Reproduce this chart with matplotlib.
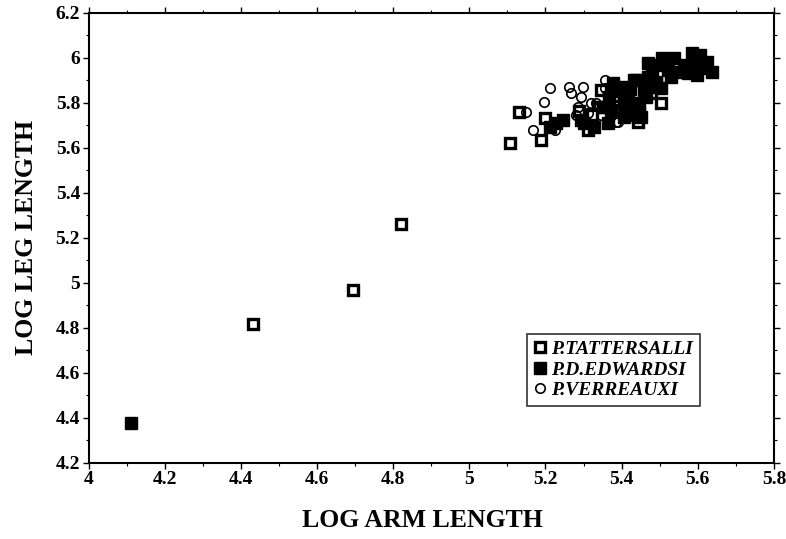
import matplotlib.pyplot as plt
from matplotlib.ticker import MultipleLocator

# data (log arm length vs log leg length)
tatt_arm = [4.433, 4.694, 4.821, 5.106, 5.130, 5.187, 5.198, 5.311, 5.337, 5.346,
            5.442, 5.442, 5.477, 5.503, 5.287, 5.322, 5.381, 5.411, 5.491, 5.292]
tatt_leg = [4.815, 4.968, 5.260, 5.623, 5.760, 5.634, 5.731, 5.678, 5.782, 5.856,
            5.794, 5.716, 5.842, 5.797, 5.764, 5.744, 5.832, 5.793, 5.881, 5.724]

edw_arm = [4.111, 5.211, 5.228, 5.246, 5.302, 5.328, 5.364, 5.372, 5.368, 5.377,
           5.407, 5.407, 5.416, 5.433, 5.446, 5.463, 5.472, 5.468, 5.507, 5.538,
           5.586, 5.607, 5.625, 5.638, 5.599, 5.555, 5.530, 5.490, 5.468, 5.459,
           5.503, 5.437, 5.446, 5.450, 5.416, 5.407, 5.564, 5.573, 5.521, 5.590,
           5.610, 5.491, 5.352, 5.392, 5.422, 5.481]
edw_leg = [4.375, 5.694, 5.709, 5.723, 5.709, 5.694, 5.709, 5.768, 5.827, 5.886,
           5.872, 5.797, 5.746, 5.901, 5.753, 5.827, 5.872, 5.975, 5.997, 5.997,
           6.019, 6.012, 5.982, 5.938, 5.923, 5.938, 5.916, 5.894, 5.916, 5.856,
           5.864, 5.901, 5.797, 5.738, 5.827, 5.738, 5.967, 5.930, 5.946, 5.966,
           5.956, 5.966, 5.783, 5.850, 5.860, 5.937]

ver_arm = [5.149, 5.211, 5.196, 5.168, 5.224, 5.263, 5.268, 5.298, 5.294, 5.320,
           5.333, 5.285, 5.281, 5.355, 5.355, 5.390, 5.346, 5.381, 5.385, 5.293,
           5.312]
ver_leg = [5.760, 5.864, 5.802, 5.679, 5.679, 5.872, 5.842, 5.872, 5.827, 5.797,
           5.797, 5.782, 5.746, 5.901, 5.864, 5.715, 5.746, 5.768, 5.715, 5.725,
           5.754]

plt.rcParams['font.family'] = ['Liberation Serif', 'DejaVu Serif']
plt.rcParams['font.weight'] = 'bold'

fig = plt.figure(figsize=(7.86, 5.39), dpi=100)
ax = fig.add_axes([0.1126, 0.1416, 0.8721, 0.8348])

ax.plot(tatt_arm, tatt_leg, 's', ms=6.5, mfc='white', mec='black', mew=2.4,
        linestyle='none', label='P.TATTERSALLI', zorder=3)
ax.plot(edw_arm, edw_leg, 's', ms=8.2, mfc='black', mec='black', mew=1.0,
        linestyle='none', label='P.D.EDWARDSI', zorder=4)
ax.plot(ver_arm, ver_leg, 'o', ms=6.8, mfc='none', mec='black', mew=1.2,
        linestyle='none', label='P.VERREAUXI', zorder=5)

ax.set_xlim(4, 5.8)
ax.set_ylim(4.2, 6.2)
ax.xaxis.set_major_locator(MultipleLocator(0.2))
ax.xaxis.set_minor_locator(MultipleLocator(0.1))
ax.yaxis.set_major_locator(MultipleLocator(0.2))
ax.yaxis.set_minor_locator(MultipleLocator(0.1))
fmt = plt.FuncFormatter(lambda v, p: ('%.1f' % v).rstrip('0').rstrip('.'))
ax.xaxis.set_major_formatter(fmt)
ax.yaxis.set_major_formatter(fmt)

ax.tick_params(which='major', direction='out', length=4, width=1.0,
               top=True, right=True, labelsize=14, pad=2)
ax.tick_params(which='minor', direction='out', length=2.5, width=0.8,
               top=True, right=True)
for lab in ax.get_xticklabels() + ax.get_yticklabels():
    lab.set_fontweight('bold')
for s in ax.spines.values():
    s.set_linewidth(1.5)

ax.set_xlabel('LOG ARM LENGTH', fontsize=18.5, fontweight='bold', labelpad=15)
ax.xaxis.label.set_x(0.4865)
ax.set_ylabel('LOG LEG LENGTH', fontsize=18.5, fontweight='bold', labelpad=13)

leg = ax.legend(loc='lower left', bbox_to_anchor=(0.640, 0.126),
                prop={'family': 'Liberation Serif', 'weight': 'bold',
                      'style': 'italic', 'size': 14},
                frameon=True, fancybox=False, edgecolor='black',
                borderpad=0.35, handletextpad=0.3, labelspacing=0.15,
                handlelength=0.6, borderaxespad=0)
leg.get_frame().set_linewidth(1.2)

fig.savefig('out.png', dpi=100)
